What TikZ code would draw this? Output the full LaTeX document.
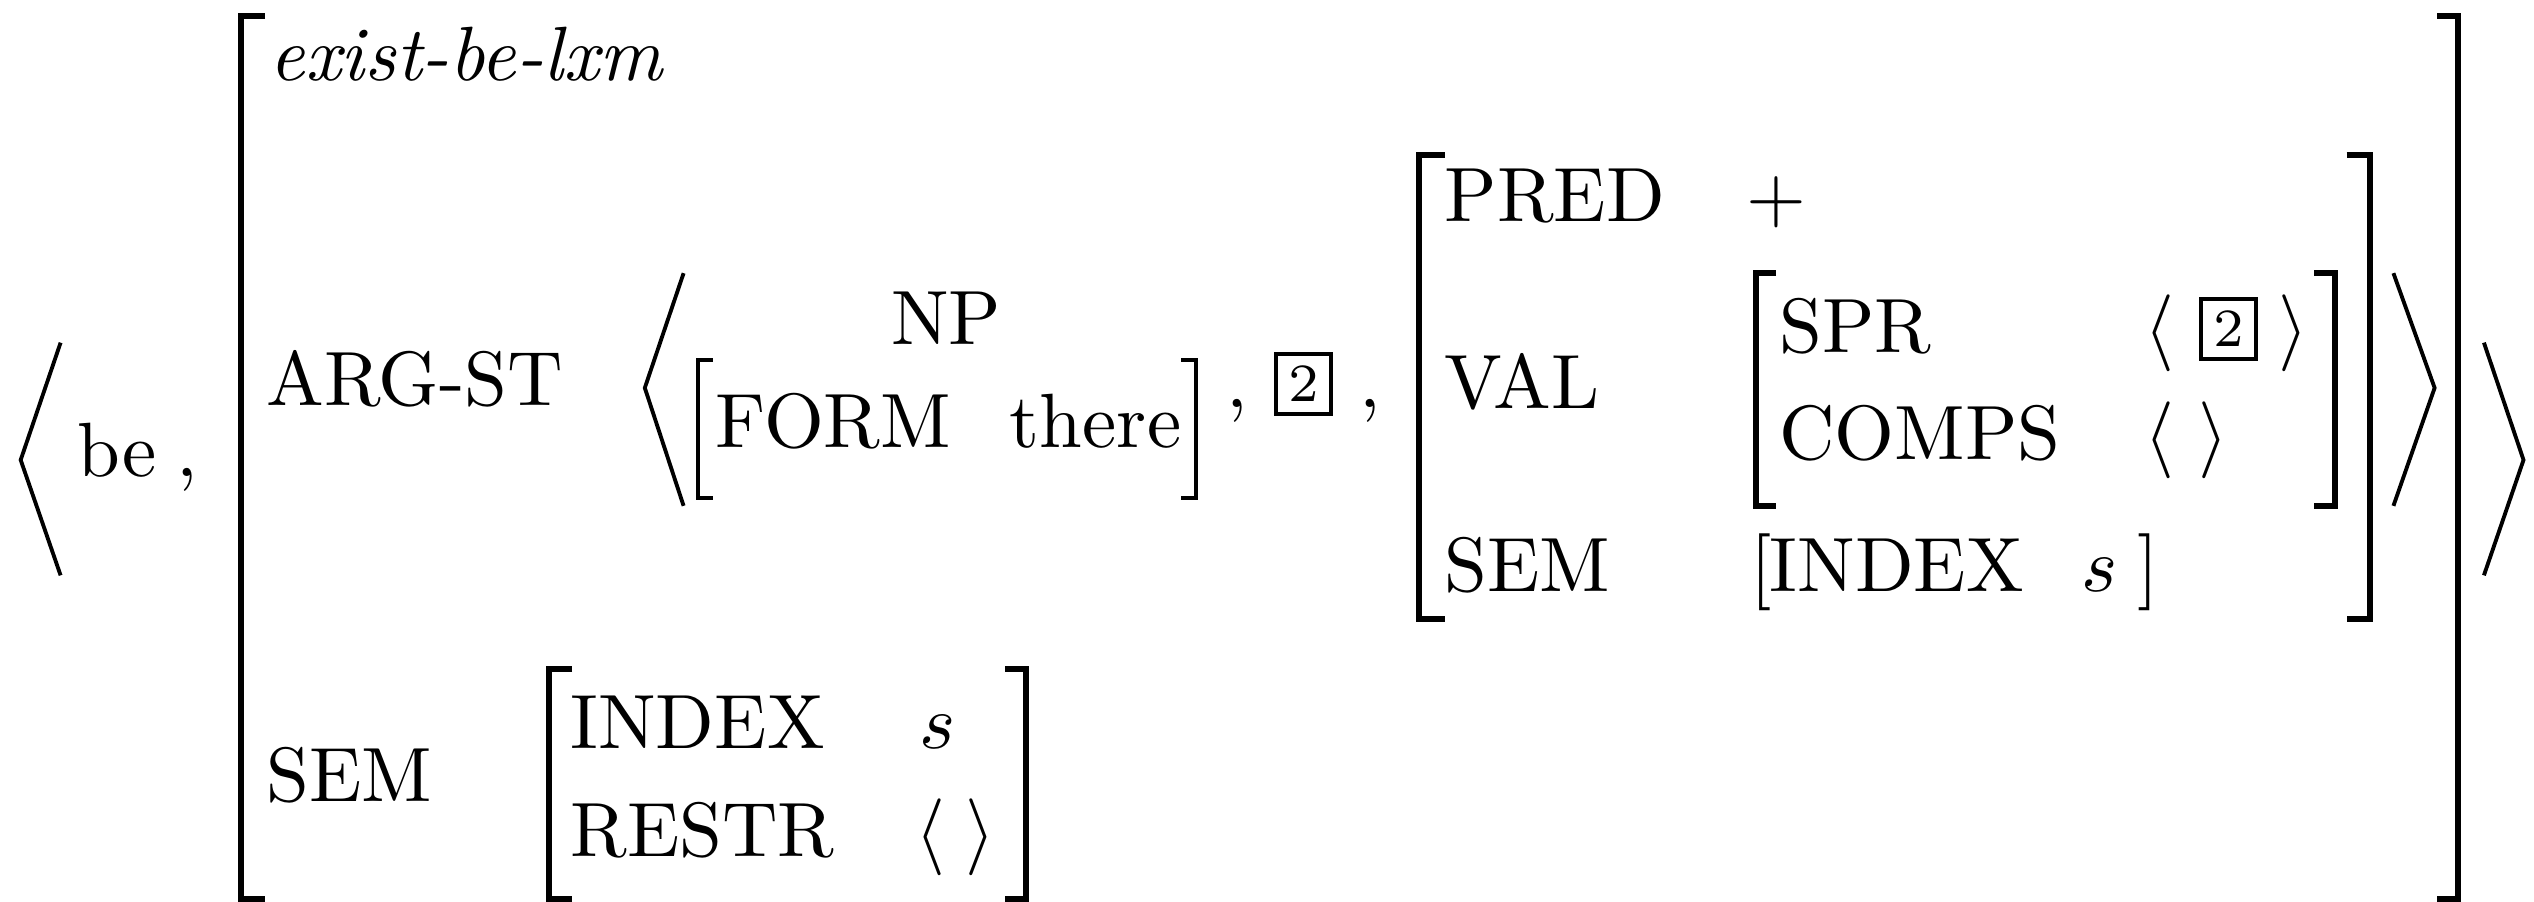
\documentclass[tikz,border=0pt]{standalone}
\usepackage{amsmath}
\tikzset{
  feat/.style={anchor=base west, inner sep=0pt},
  mid/.style={anchor=base, inner sep=0pt},
  brk/.style={line width=0.8pt, line join=miter},
  thinbrk/.style={line width=0.5pt, line join=miter},
  ang/.style={line width=0.5pt, line join=miter},
  tagbox/.style={draw, line width=0.5pt, inner sep=0pt, minimum width=7.1pt, minimum height=7.8pt, font=\scriptsize}
}
\begin{document}
\begin{tikzpicture}[x=0.21pt,y=-0.21pt]
\useasboundingbox (0,0) rectangle (1568,558);
% outer list
\draw[ang](37.5,212)--(12.8,284.6)--(37.5,356);
\draw[ang](1537,212)--(1561.5,284.6)--(1537,356);
\node[feat] (be) at (47,295) {be};
\node[feat] (c0) at (108,295) {,};
% big matrix
\draw[brk](164,10)--(149,10)--(149,556)--(164,556);
\draw[brk](1508,10)--(1521,10)--(1521,556)--(1508,556);
\node[feat] (type) at (166,50) {\textit{exist-be-lxm}};
\node[feat] (argst) at (164,251) {ARG-ST};
\node[feat] (sem) at (164,496) {SEM};
% ARG-ST list
\draw[ang](423,169)--(399,240)--(423,313);
\draw[ang](1481,169)--(1506.5,240)--(1481,313);
\node[mid] (np) at (585.5,213) {NP};
\draw[thinbrk](441,223)--(432,223)--(432,308)--(441,308);
\draw[thinbrk](731,223)--(740,223)--(740,308)--(731,308);
\node[feat] (form) at (442,277) {FORM};
\node[feat] (there) at (624,277) {there};
\node[feat] (c1) at (758,252) {,};
\node[tagbox] (tag1) at (806.5,237.5) {2};
\node[feat] (c2) at (840,252) {,};
% third element
\draw[brk](894,96)--(878,96)--(878,383)--(894,383);
\draw[brk](1452,96)--(1466.5,96)--(1466.5,383)--(1452,383);
\node[feat] (pred) at (893,137) {PRED};
\node[feat] (plus) at (1080,137) {$+$};
\node[feat] (val) at (893,252.5) {VAL};
\draw[brk](1099,169)--(1086.5,169)--(1086.5,313)--(1099,313);
\draw[brk](1432,169)--(1445,169)--(1445,313)--(1432,313);
\node[feat] (spr) at (1100,218) {SPR};
\node[mid] (sprl) at (1336,218) {$\langle$};
\node[tagbox] (tag2) at (1379,203.5) {2};
\node[mid] (sprr) at (1419,218) {$\rangle$};
\node[feat] (comps) at (1100,284.6) {COMPS};
\node[mid] (compsl) at (1336,284.6) {$\langle$};
\node[mid] (compsr) at (1369.5,284.6) {$\rangle$};
\node[feat] (sem2) at (893,366) {SEM};
\node[mid] (lb2) at (1090,366) {[};
\node[feat] (index2) at (1094,366) {INDEX};
\node[feat] (s2) at (1287,366) {$s$};
\node[mid] (rb2) at (1329.5,366) {]};
% SEM value
\draw[brk](354,414)--(339.6,414)--(339.6,556)--(354,556);
\draw[brk](622,414)--(635,414)--(635,556)--(622,556);
\node[feat] (index) at (352,463) {INDEX};
\node[feat] (s) at (568,463) {$s$};
\node[feat] (restr) at (352,530) {RESTR};
\node[mid] (restrl) at (576,530) {$\langle$};
\node[mid] (restrr) at (606.5,530) {$\rangle$};
\end{tikzpicture}
\end{document}
